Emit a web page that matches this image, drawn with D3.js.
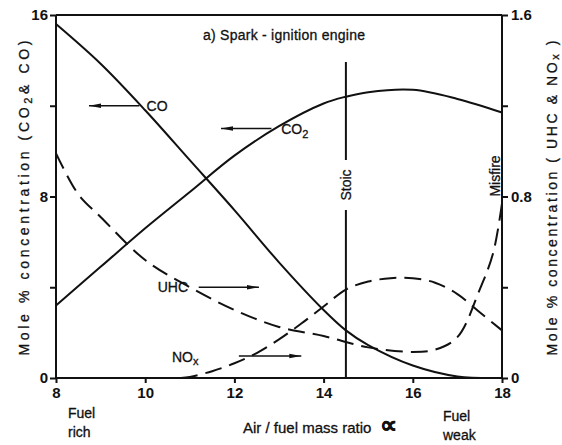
<!DOCTYPE html>
<html>
<head>
<meta charset="utf-8">
<script src="https://cdn.jsdelivr.net/npm/d3@7"></script>
<style>
  body { margin: 0; background: #fff; }
  svg text { font-family: "Liberation Sans", Arial, sans-serif; fill: #111; stroke: #111; stroke-width: 0.3; }
  .axis path, .axis line { stroke: #111; stroke-width: 2; }
  .axis text { font-size: 15px; font-weight: bold; stroke: none; }
</style>
</head>
<body>
<svg id="chart" width="562" height="445"></svg>
<script>
// air / fuel ratio for CO and CO2 (left axis, mole %)
var afr  = [8, 9, 10, 11, 12, 13, 14, 14.5, 15, 16, 17, 18];
var co   = [15.6, 13.85, 11.8, 9.6, 7.4, 5.1, 3.0, 2.1, 1.45, 0.55, 0.07, 0];
var co2  = [3.2, 4.9, 6.6, 8.2, 9.8, 11.1, 12.1, 12.4, 12.6, 12.7, 12.3, 11.7];

// UHC and NOx (right axis, mole %)
var uhcAfr = [8, 8.5, 9, 10, 11, 12, 13, 14, 15, 16, 16.5, 17, 17.5, 17.8, 18];
var uhc    = [0.99, 0.81, 0.71, 0.52, 0.40, 0.30, 0.225, 0.185, 0.135, 0.115, 0.125, 0.18, 0.39, 0.55, 0.77];
var noxAfr = [10.8, 11, 11.5, 12, 12.5, 13, 13.5, 14, 14.5, 15, 15.5, 16, 16.5, 17, 17.5, 18];
var nox    = [0, 0.005, 0.03, 0.065, 0.11, 0.17, 0.24, 0.315, 0.39, 0.425, 0.44, 0.44, 0.42, 0.37, 0.29, 0.21];

var xTicks = [8, 10, 12, 14, 16, 18];
var yLeftTicks = [0, 4, 8, 12, 16];
var yRightTicks = [0, 0.4, 0.8, 1.2, 1.6];
var stoic = 14.5;

var svg = d3.select("#chart");

var x = d3.scaleLinear().domain([8, 18]).range([56, 502]);
var yL = d3.scaleLinear().domain([0, 16]).range([378, 15]);
var yR = d3.scaleLinear().domain([0, 1.6]).range([378, 15]);

// arrow head
svg.append("defs").append("marker")
    .attr("id", "head")
    .attr("viewBox", "0 0 12 6")
    .attr("refX", 12).attr("refY", 3)
    .attr("markerWidth", 12).attr("markerHeight", 6)
    .attr("markerUnits", "userSpaceOnUse")
    .attr("orient", "auto")
  .append("path")
    .attr("d", "M0,0.8 L12,3 L0,5.2 Z")
    .attr("fill", "#111");

// frame top
svg.append("line")
    .attr("x1", x(8)).attr("x2", x(18))
    .attr("y1", yL(16)).attr("y2", yL(16))
    .attr("stroke", "#111").attr("stroke-width", 2);

svg.append("g").attr("class", "axis")
    .attr("transform", "translate(" + x(8) + ",0)")
    .call(d3.axisLeft(yL).tickValues(yLeftTicks).tickSize(6).tickPadding(2)
      .tickFormat(function(d) { return d % 8 === 0 ? d : ""; }))
    .call(function(g) { g.select(".domain").attr("d", "M0," + yL(0) + "V" + yL(16)); });

svg.append("g").attr("class", "axis")
    .attr("transform", "translate(" + x(18) + ",0)")
    .call(d3.axisRight(yR).tickValues(yRightTicks).tickSize(6).tickPadding(3)
      .tickFormat(function(d) { return d === 0 ? "0" : (d === 0.8 || d === 1.6) ? d3.format(".1f")(d) : ""; }))
    .call(function(g) { g.select(".domain").attr("d", "M0," + yR(0) + "V" + yR(1.6)); });

svg.append("g").attr("class", "axis")
    .attr("transform", "translate(0," + yL(0) + ")")
    .call(d3.axisBottom(x).tickValues(xTicks).tickSize(5).tickPadding(4)
      .tickFormat(d3.format("d")))
    .call(function(g) { g.select(".domain").attr("d", "M" + x(8) + ",0H" + x(18)); });

// curves
var lineL = d3.line()
    .x(function(d) { return x(d[0]); })
    .y(function(d) { return yL(d[1]); })
    .curve(d3.curveCatmullRom);
var lineR = d3.line()
    .x(function(d) { return x(d[0]); })
    .y(function(d) { return yR(d[1]); })
    .curve(d3.curveCatmullRom);

svg.append("path").datum(d3.zip(afr, co))
    .attr("d", lineL).attr("fill", "none").attr("stroke", "#111").attr("stroke-width", 2);
svg.append("path").datum(d3.zip(afr, co2))
    .attr("d", lineL).attr("fill", "none").attr("stroke", "#111").attr("stroke-width", 2);
svg.append("path").datum(d3.zip(uhcAfr, uhc))
    .attr("d", lineR).attr("fill", "none").attr("stroke", "#111").attr("stroke-width", 2)
    .attr("stroke-dasharray", "17,8");
svg.append("path").datum(d3.zip(noxAfr, nox))
    .attr("d", lineR).attr("fill", "none").attr("stroke", "#111").attr("stroke-width", 2)
    .attr("stroke-dasharray", "17,8");

// stoichiometric line with label
svg.append("line")
    .attr("x1", x(stoic)).attr("x2", x(stoic))
    .attr("y1", 62).attr("y2", 160)
    .attr("stroke", "#111").attr("stroke-width", 2);
svg.append("line")
    .attr("x1", x(stoic)).attr("x2", x(stoic))
    .attr("y1", 210).attr("y2", yL(0))
    .attr("stroke", "#111").attr("stroke-width", 2);
svg.append("text")
    .attr("transform", "translate(" + (x(stoic) + 5) + ",185) rotate(-90)")
    .attr("text-anchor", "middle").style("font-size", "14px")
    .text("Stoic");
svg.append("text")
    .attr("transform", "translate(" + (x(18) - 2) + ",176) rotate(-90)")
    .attr("text-anchor", "middle").style("font-size", "14px")
    .text("Misfire");

// annotation arrows
var arrows = [
  { x1: 9.87, x2: 8.74, y: yL(12) },
  { x1: 12.83, x2: 11.7, y: yL(11) },
  { x1: 11.2, x2: 12.55, y: yR(0.4) },
  { x1: 12.1, x2: 13.5, y: yR(0.097) }
];
svg.selectAll("line.arrow").data(arrows).enter().append("line")
    .attr("class", "arrow")
    .attr("x1", function(d) { return x(d.x1); })
    .attr("x2", function(d) { return x(d.x2); })
    .attr("y1", function(d) { return d.y; })
    .attr("y2", function(d) { return d.y; })
    .attr("stroke", "#111").attr("stroke-width", 1.5)
    .attr("marker-end", "url(#head)");

// curve labels
var lab = svg.append("g").style("font-size", "14px");
lab.append("text").attr("x", x(10.03)).attr("y", yL(12) + 5).text("CO");
var t2 = lab.append("text").attr("x", x(13.05)).attr("y", yL(11) + 6);
t2.append("tspan").text("CO");
t2.append("tspan").attr("dy", 4).style("font-size", "11px").text("2");
lab.append("text").attr("x", x(10.28)).attr("y", yR(0.4) + 5).text("UHC");
var tn = lab.append("text").attr("x", x(10.6)).attr("y", yR(0.09) + 4);
tn.append("tspan").text("NO");
tn.append("tspan").attr("dy", 3).style("font-size", "11px").text("x");

// title
svg.append("text").attr("x", 203).attr("y", 40)
    .style("font-size", "14px")
    .attr("textLength", 162).attr("lengthAdjust", "spacing")
    .text("a) Spark - ignition engine");

// axis titles
var lt = svg.append("text")
    .attr("transform", "translate(29,198) rotate(-90)")
    .attr("text-anchor", "middle").style("font-size", "14px")
    .attr("textLength", 315).attr("lengthAdjust", "spacing");
lt.append("tspan").text("Mole  %  concentration  (CO");
lt.append("tspan").attr("dy", 3).style("font-size", "11px").text("2");
lt.append("tspan").attr("dy", -3).text("& CO)");

var rt = svg.append("text")
    .attr("transform", "translate(557,198) rotate(-90)")
    .attr("text-anchor", "middle").style("font-size", "14px")
    .attr("textLength", 315).attr("lengthAdjust", "spacing");
rt.append("tspan").text("Mole  %  concentration ( UHC  &  NO");
rt.append("tspan").attr("dy", 2).style("font-size", "11px").text("x");
rt.append("tspan").attr("dy", -2).text(" )");

// x axis titles
var xt = svg.append("text").attr("x", 243).attr("y", 433).style("font-size", "15px");
xt.append("tspan").text("Air / fuel  mass  ratio ");
xt.append("tspan").style("font-size", "24px").style("font-weight", "bold").attr("dx", 4).text("\u221D");
svg.append("text").attr("x", 68).attr("y", 418).style("font-size", "14px").text("Fuel");
svg.append("text").attr("x", 68).attr("y", 437).style("font-size", "14px").text("rich");
svg.append("text").attr("x", 443).attr("y", 421).style("font-size", "14px").text("Fuel");
svg.append("text").attr("x", 443).attr("y", 440).style("font-size", "14px").text("weak");
</script>
</body>
</html>
